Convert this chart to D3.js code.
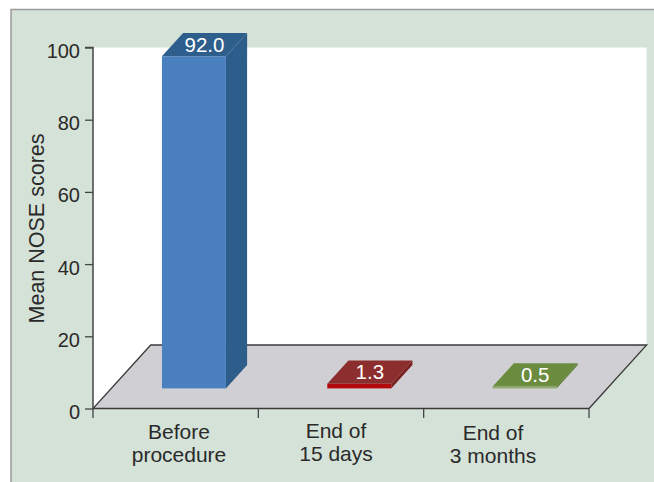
<!DOCTYPE html>
<html>
<head>
<meta charset="utf-8">
<script src="https://cdn.jsdelivr.net/npm/d3@7/dist/d3.min.js"></script>
<style>
  html, body { margin: 0; padding: 0; background: #ffffff; }
  svg { display: block; }
  text { font-family: "Liberation Sans", Arial, Helvetica, sans-serif; }
</style>
</head>
<body>
<svg id="chart" width="654" height="482"></svg>
<script>
// Mean NOSE scores at three time points
const categories = ["Before procedure", "End of 15 days", "End of 3 months"];
const categoryLines = [["Before", "procedure"], ["End of", "15 days"], ["End of", "3 months"]];
const values = [92.0, 1.3, 0.5];
const valueLabels = ["92.0", "1.3", "0.5"];
const yTicks = [0, 20, 40, 60, 80, 100];
const yTitle = "Mean NOSE scores";

// Face colours per bar: front, side, top
const faceColors = [
  { front: "#4a80bf", side: "#2d5d8a", top: "#2d5e8c" },
  { front: "#b40a0d", side: "#7a2222", top: "#8c2e2e" },
  { front: "#8dab6c", side: "#5c7a37", top: "#6b8c3f" }
];

const svg = d3.select("#chart");

// Geometry of the 3D frame
const x0 = 93, x1 = 589;             // front edge of the floor
const depthX = 57.7, depthY = -63.5; // floor depth offset
const barDepthFrac = 0.367;          // bar depth as fraction of floor depth
const barFrontFrac = (1 - barDepthFrac) / 2;
const barWidthFrac = 0.387;

const y = d3.scaleLinear().domain([0, 100]).range([408.5, 47.5]);
const x = d3.scaleBand().domain(categories).range([x0, x1]).padding(0);
const labelX = d3.scalePoint().domain(categories).range([179, 493]);

// Outer panel
svg.append("rect")
  .attr("x", 11).attr("y", 9.5).attr("width", 660).attr("height", 490)
  .attr("fill", "#d5e2d8").attr("stroke", "#9b9b9b").attr("stroke-width", 1.5);

// White back wall / plot area
const yTop = y(100), yBase = y(0);
svg.append("path")
  .attr("d", d3.line()([
    [x0, yTop], [x1 + depthX, yTop], [x1 + depthX, yBase + depthY],
    [x1, yBase], [x0, yBase]
  ]) + "Z")
  .attr("fill", "#ffffff");

// Floor
svg.append("path")
  .attr("d", d3.line()([
    [x0, yBase], [x1, yBase], [x1 + depthX, yBase + depthY], [x0 + depthX, yBase + depthY]
  ]) + "Z")
  .attr("fill", "#d0d0d4")
  .attr("stroke", "#3a3a3a").attr("stroke-width", 1.3).attr("stroke-linejoin", "miter");

// Y axis
const yAxis = d3.axisLeft(y).tickValues(yTicks).tickSize(8).tickPadding(5);
const gy = svg.append("g").attr("transform", `translate(${x0},0)`).call(yAxis);
gy.select(".domain").attr("stroke", "#444").attr("stroke-width", 1.5)
  .attr("d", `M-8,${yTop}H0V${yBase}`);
gy.selectAll(".tick line").attr("stroke", "#444").attr("stroke-width", 1.3);
gy.selectAll(".tick text")
  .attr("fill", "#2a2a2a").attr("font-size", "20px")
  .attr("x", -13).attr("dy", "0.5em");

// Category ticks under the floor
const catTickXs = [x0].concat(categories.map(c => x(c) + x.bandwidth()));
svg.append("g").selectAll("line").data(catTickXs).join("line")
  .attr("x1", d => d).attr("x2", d => d)
  .attr("y1", yBase).attr("y2", yBase + 9.5)
  .attr("stroke", "#444").attr("stroke-width", 1.3);

// Bars as boxes
const bw = x.bandwidth() * barWidthFrac;
const bdx = depthX * barDepthFrac, bdy = depthY * barDepthFrac;
const bars = svg.append("g").selectAll("g").data(categories).join("g");
bars.each(function(c, i) {
  const g = d3.select(this);
  const fl = x(c) + (x.bandwidth() - bw) / 2 + depthX * barFrontFrac;
  const fr = fl + bw;
  const fb = y(0) + depthY * barFrontFrac;
  const ft = fb - (y(0) - y(values[i]));
  const col = faceColors[i];
  // side face
  g.append("path")
    .attr("d", d3.line()([[fr, ft], [fr + bdx, ft + bdy], [fr + bdx, fb + bdy], [fr, fb]]) + "Z")
    .attr("fill", col.side);
  // front face
  g.append("rect")
    .attr("x", fl).attr("y", ft).attr("width", bw).attr("height", fb - ft)
    .attr("fill", col.front);
  // top face
  g.append("path")
    .attr("d", d3.line()([[fl, ft], [fr, ft], [fr + bdx, ft + bdy], [fl + bdx, ft + bdy]]) + "Z")
    .attr("fill", col.top);
  // value label on the top face
  g.append("text")
    .attr("x", (fl + fr) / 2 + bdx / 2)
    .attr("y", ft + bdy / 2)
    .attr("dy", "0.34em")
    .attr("text-anchor", "middle")
    .attr("fill", "#ffffff")
    .attr("font-size", "20.5px")
    .text(valueLabels[i]);
});

// Category labels
const labelBase = [438.5, 438, 440];
const cl = svg.append("g").selectAll("text").data(categories).join("text")
  .attr("text-anchor", "middle")
  .attr("fill", "#2a2a2a")
  .attr("font-size", "21px")
  .attr("x", c => labelX(c))
  .attr("y", (c, i) => labelBase[i]);
cl.each(function(c, i) {
  const t = d3.select(this);
  categoryLines[i].forEach((line, j) => {
    t.append("tspan").attr("x", labelX(c)).attr("y", labelBase[i] + j * 23).text(line);
  });
});

// Y axis title
svg.append("text")
  .attr("transform", "translate(43.5,228.5) rotate(-90)")
  .attr("text-anchor", "middle")
  .attr("fill", "#2a2a2a")
  .attr("font-size", "21.5px")
  .text(yTitle);
</script>
</body>
</html>
